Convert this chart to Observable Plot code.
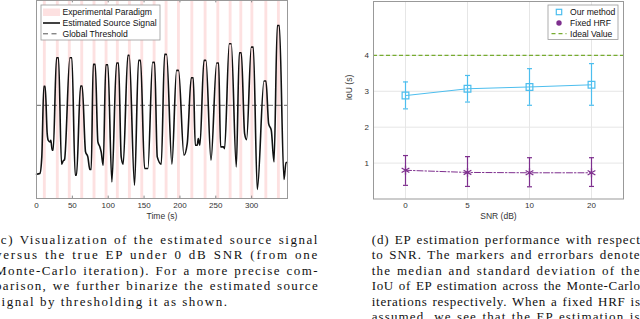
<!DOCTYPE html>
<html><head><meta charset="utf-8">
<script src="https://cdn.jsdelivr.net/npm/d3@7"></script>
<script src="https://cdn.jsdelivr.net/npm/@observablehq/plot@0.6"></script>
<style>
html,body{margin:0;padding:0;background:#fff;}
#root{position:relative;width:640px;height:319px;overflow:hidden;background:#fff;}
.abs{position:absolute;}
.cap{position:absolute;font-family:"Liberation Serif","Times New Roman",serif;font-size:13px;line-height:15.4px;height:15.4px;white-space:nowrap;text-align:justify;text-align-last:justify;color:#111;}
.cap.last{text-align:left;text-align-last:left;}
</style></head><body><div id="root"></div>
<script>
// ---------- (c) data ----------
const signalTime = [0,4.7,7.4,10.2,12.1,14.9,16.3,18.6,20.0,21.9,23.3,27.9,30.7,34.9,37.2,39.1,46.5,49.3,54.0,55.8,61.4,63.7,68.4,71.6,74.4,76.3,79.1,81.9,85.6,88.4,90.2,93.0,96.7,99.5,105.1,111.6,114.4,118.1,120.9,127.4,129.3,136.7,142.3,145.1,150.7,155.3,161.9,164.7,168.4,174.0,178.6,181.4,188.8,195.3,198.1,205.6,210.2,215.8,218.6,221.4,224.2,225.6,227.9,233.5,236.3,243.3,251.2,254.0,256.7,260.5,262.3,268.8,271.6,278.6,282.8,285.6,290.2,293.0,299.5,302.3,307.9,317.2,320.0,323.7,327.4,331.2,335.8,338.6,345.1,347.9,349.8];
const signalValue = [-2.07,-2.05,-1.55,0.57,0.57,-0.85,-1.05,-1.10,-1.05,-1.35,-1.35,1.43,1.43,-1.77,-1.67,-1.63,1.43,1.43,-2.10,-2.10,0.58,0.58,-1.40,-1.55,-1.93,-1.93,1.23,1.23,-1.10,-1.25,-1.40,-1.80,1.22,1.22,-2.30,1.27,1.27,-1.55,-1.77,1.50,1.50,-2.40,1.35,1.35,-1.90,-1.90,1.29,1.29,-1.55,-1.77,1.53,1.53,-1.77,1.05,1.05,-1.50,-1.15,0.83,0.83,-1.20,-1.20,-1.00,-1.20,1.35,1.35,-1.65,1.27,1.27,-1.25,-1.25,-1.30,1.85,1.85,-1.85,1.58,1.58,-0.85,-1.03,1.75,1.75,-2.53,0.73,0.73,-0.55,-0.75,-1.70,2.40,2.40,-2.23,-1.72,-1.72];
const paradigmOnsets = [9.6,27.7,44.4,61.8,78.9,95.7,111.4,128.2,145.5,162.7,179.4,196.6,215.3,233.8,251.5,268.7,283.6,299.0,318.5,336.0];
const paradigmDuration = 4;
const threshold = 0;
const timeTicks = [0,50,100,150,200,250,300];

// ---------- (d) data ----------
const snrLevels = ["0","5","10","20"];
const oursMedian = [2.88,3.07,3.12,3.18];
const oursLow = [2.51,2.70,2.61,2.61];
const oursHigh = [3.26,3.44,3.63,3.77];
const fixedMedian = [0.80,0.74,0.73,0.73];
const fixedLow = [0.38,0.35,0.34,0.35];
const fixedHigh = [1.21,1.18,1.15,1.15];
const idealValue = 4;
const iouTicks = [1,2,3,4];

const captionC = [
"(c) Visualization of the estimated source signal",
"versus the true EP under 0 dB SNR (from one",
"Monte-Carlo iteration). For a more precise com-",
"parison, we further binarize the estimated source",
"signal by thresholding it as shown."];
const captionD = [
"(d) EP estimation performance with respect",
"to SNR. The markers and errorbars denote",
"the median and standard deviation of the",
"IoU of EP estimation across the Monte-Carlo",
"iterations respectively. When a fixed HRF is",
"assumed, we see that the EP estimation is"];

const CYAN = "#4DBEEE", PURPLE = "#7E2F8E", GREEN = "#77AC30", PINK = "#fde1e1";
const FONT = "'Liberation Sans', Arial, sans-serif";
const root = document.getElementById("root");

// ---------- left plot ----------
const sigData = signalTime.map((t, i) => ({t, v: signalValue[i]}));
const bandData = paradigmOnsets.map(o => ({start: o, end: o + paradigmDuration}));
const yDomL = [-2.8, 3.15];
const tl = (yDomL[1] - yDomL[0]) * 0.012;
const left = Plot.plot({
  width: 300, height: 235, marginLeft: 36, marginRight: 13, marginTop: 5, marginBottom: 32,
  style: {fontFamily: FONT, fontSize: "8px", background: "transparent"},
  x: {domain: [0, 350], axis: null},
  y: {domain: yDomL, axis: null},
  marks: [
    Plot.rect(bandData, {x1: "start", x2: "end", fill: PINK}),
    Plot.ruleY([threshold], {stroke: "#555", strokeWidth: 0.9, strokeDasharray: "5,3"}),
    Plot.line(sigData, {x: "t", y: "v", curve: "monotone-x", stroke: "#111", strokeWidth: 1.6}),
    Plot.ruleX(timeTicks, {x: d => d, y1: yDomL[0], y2: yDomL[0] + tl, stroke: "#888"}),
    Plot.ruleX(timeTicks, {x: d => d, y1: yDomL[1], y2: yDomL[1] - tl, stroke: "#888"}),
    Plot.frame({stroke: "#999"}),
    Plot.text(timeTicks, {x: d => d, frameAnchor: "bottom", dy: 9, text: d => String(d), fill: "#333"}),
    Plot.text(["Time (s)"], {frameAnchor: "bottom", dy: 20, fill: "#333", fontSize: 8.5})
  ]
});
left.style.position = "absolute"; left.style.left = "0px"; left.style.top = "-5px";
root.appendChild(left);

// ---------- right plot ----------
const ours = snrLevels.map((s, i) => ({snr: s, med: oursMedian[i], lo: oursLow[i], hi: oursHigh[i]}));
const fixed = snrLevels.map((s, i) => ({snr: s, med: fixedMedian[i], lo: fixedLow[i], hi: fixedHigh[i]}));
const capSymbol = {draw(ctx, size) { const r = Math.sqrt(size / Math.PI); ctx.moveTo(-r, 0); ctx.lineTo(r, 0); }};
function errMarks(rows, color) {
  return [
    Plot.ruleX(rows, {x: "snr", y1: "lo", y2: "hi", stroke: color, strokeWidth: 1.2}),
    Plot.dot(rows, {x: "snr", y: "lo", symbol: capSymbol, r: 2.5, stroke: color, strokeWidth: 1.2}),
    Plot.dot(rows, {x: "snr", y: "hi", symbol: capSymbol, r: 2.5, stroke: color, strokeWidth: 1.2})
  ];
}
const right = Plot.plot({
  width: 320, height: 235, marginLeft: 53, marginRight: 17, marginTop: 6, marginBottom: 31.5,
  style: {fontFamily: FONT, fontSize: "8px", background: "transparent"},
  x: {type: "point", domain: snrLevels, padding: 0.5, axis: null},
  y: {domain: [0, 5.5], axis: null},
  marks: [
    Plot.ruleX(snrLevels, {x: d => d, stroke: "#e6e6e6"}),
    Plot.ruleY(iouTicks, {y: d => d, stroke: "#e6e6e6"}),
    Plot.ruleY([idealValue], {stroke: GREEN, strokeWidth: 1.4, strokeDasharray: "4,2.5"}),
    ...errMarks(ours, CYAN),
    Plot.line(ours, {x: "snr", y: "med", stroke: CYAN, strokeWidth: 1}),
    Plot.dot(ours, {x: "snr", y: "med", symbol: "square", r: 3.8, stroke: CYAN, fill: "none", strokeWidth: 1.2}),
    ...errMarks(fixed, PURPLE),
    Plot.line(fixed, {x: "snr", y: "med", stroke: PURPLE, strokeWidth: 1, strokeDasharray: "6,2,1.5,2"}),
    Plot.dot(fixed, {x: "snr", y: "med", symbol: "asterisk", r: 4.2, stroke: PURPLE, strokeWidth: 1.3}),
    Plot.frame({stroke: "#999"}),
    Plot.text(snrLevels, {x: d => d, frameAnchor: "bottom", dy: 8.5, text: d => d, fill: "#333"}),
    Plot.text(iouTicks, {y: d => d, frameAnchor: "left", dx: -4.5, textAnchor: "end", text: d => String(d), fill: "#333"}),
    Plot.text(["SNR (dB)"], {frameAnchor: "bottom", dy: 20, fill: "#333", fontSize: 8.5}),
    Plot.text(["IoU (s)"], {frameAnchor: "left", dx: -24, rotate: -90, fill: "#333", fontSize: 8.5})
  ]
});
right.style.position = "absolute"; right.style.left = "320px"; right.style.top = "-5px";
root.appendChild(right);

// ---------- legends ----------
const ov = d3.select(root).append("svg").attr("class", "abs").attr("width", 640).attr("height", 319)
  .style("left", "0px").style("top", "0px").style("font-family", FONT).style("font-size", "8.6px");
function legendText(x, y, t) { ov.append("text").attr("x", x).attr("y", y).attr("dy", "0.35em").attr("fill", "#111").text(t); }
ov.append("rect").attr("x", 41).attr("y", 5).attr("width", 119).attr("height", 35).attr("fill", "#fff").attr("stroke", "#999").attr("stroke-width", 0.8);
ov.append("rect").attr("x", 43).attr("y", 8.5).attr("width", 17).attr("height", 7.5).attr("fill", PINK);
legendText(62.5, 12.2, "Experimental Paradigm");
ov.append("line").attr("x1", 43).attr("x2", 60).attr("y1", 23).attr("y2", 23).attr("stroke", "#111").attr("stroke-width", 1.6);
legendText(62.5, 23, "Estimated Source Signal");
ov.append("line").attr("x1", 43).attr("x2", 60).attr("y1", 33.8).attr("y2", 33.8).attr("stroke", "#555").attr("stroke-dasharray", "5,3.5");
legendText(62.5, 33.8, "Global Threshold");

ov.append("rect").attr("x", 548).attr("y", 5).attr("width", 70).attr("height", 34.5).attr("fill", "#fff").attr("stroke", "#999").attr("stroke-width", 0.8);
ov.append("rect").attr("x", 556.3).attr("y", 9.3).attr("width", 5.4).attr("height", 5.4).attr("fill", "none").attr("stroke", CYAN).attr("stroke-width", 1.2);
legendText(570, 12, "Our method");
ov.append("circle").attr("cx", 559).attr("cy", 23).attr("r", 2.7).attr("fill", PURPLE);
legendText(570, 23, "Fixed HRF");
ov.append("line").attr("x1", 551.5).attr("x2", 566.5).attr("y1", 33.7).attr("y2", 33.7).attr("stroke", GREEN).attr("stroke-width", 1.3).attr("stroke-dasharray", "4,3");
legendText(570, 33.7, "Ideal Value");

// ---------- captions ----------
const mctx = document.createElement("canvas").getContext("2d");
mctx.font = "13px 'Liberation Serif'";
function caption(lines, x, w, top, lastLeft) {
  const sp = lines.map(t => {
    const nat = mctx.measureText(t).width;
    const spaces = (t.match(/ /g) || []).length;
    return Math.max(0, (w - nat - spaces * 1.0) / t.length);
  });
  const full = lastLeft ? sp.slice(0, -1) : sp;
  const avg = full.reduce((a, b) => a + b, 0) / full.length;
  lines.forEach((t, i) => {
    const d = document.createElement("div");
    const isLast = lastLeft && i === lines.length - 1;
    d.className = "cap" + (isLast ? " last" : "");
    d.style.left = x + "px"; d.style.top = (top + i * 15.4) + "px";
    d.style.width = (isLast ? w + 4 : w) + "px";
    d.style.letterSpacing = (isLast ? avg : sp[i]).toFixed(3) + "px";
    d.textContent = t;
    root.appendChild(d);
  });
}
caption(captionC, -5, 324, 232, true);
caption(captionD, 371.7, 269, 232, false);
</script></body></html>
